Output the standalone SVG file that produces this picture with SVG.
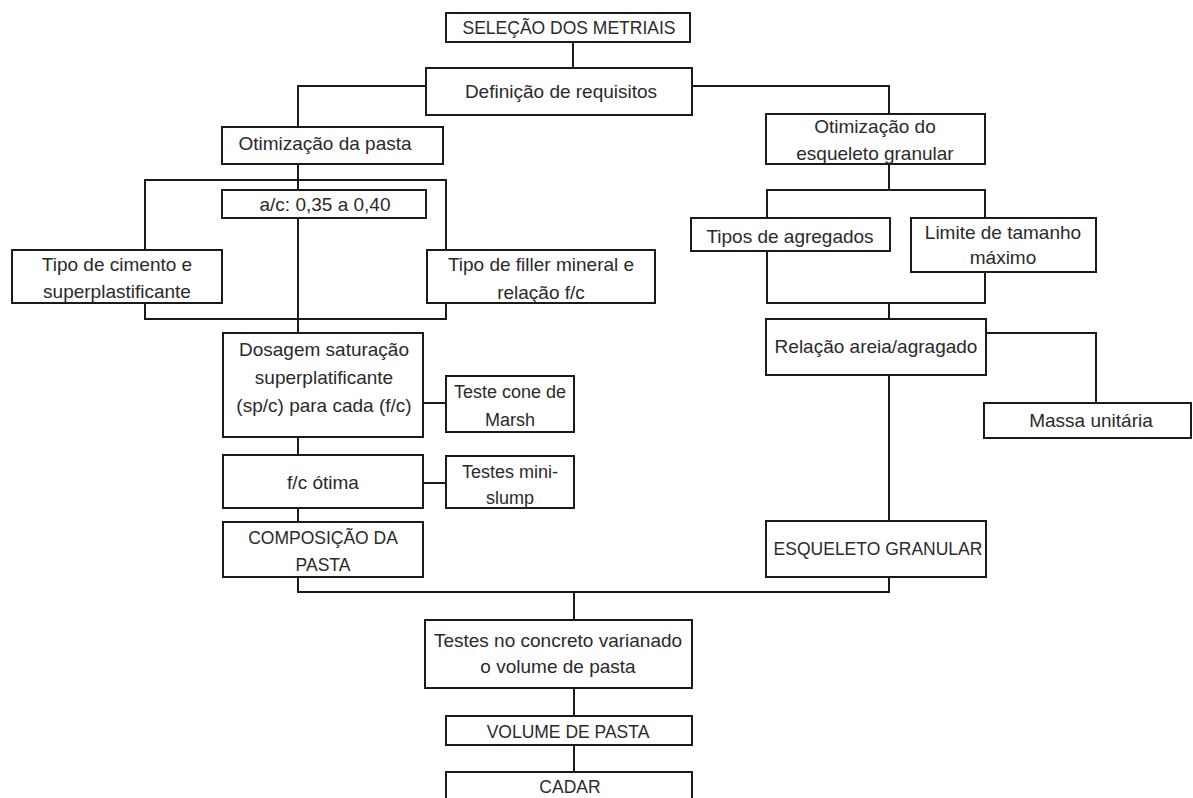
<svg xmlns="http://www.w3.org/2000/svg" width="1193" height="798" viewBox="0 0 1193 798">
<style>
.box{fill:#fff;stroke:#1a1a1a;stroke-width:2}
.ln{fill:none;stroke:#1a1a1a;stroke-width:2}
text{font-family:"Liberation Sans",Arial,sans-serif;font-size:19px;fill:#2a2a2a;text-anchor:middle}
text.cap{font-size:17.5px}
text.sm{font-size:18px}
</style>
<rect width="1193" height="798" fill="#fff"/>
<g id="connectors">
<path class="ln" d="M573 42V68"/>
<path class="ln" d="M426 86H298V127"/>
<path class="ln" d="M692 86H889V114"/>
<path class="ln" d="M298 164V190"/>
<path class="ln" d="M145 250V180H446V250"/>
<path class="ln" d="M298 218V333"/>
<path class="ln" d="M145 303V319H446V303"/>
<path class="ln" d="M423 403H446"/>
<path class="ln" d="M298 437V455"/>
<path class="ln" d="M423 483H446"/>
<path class="ln" d="M298 508V522"/>
<path class="ln" d="M298 577V592H889V577"/>
<path class="ln" d="M889 164V190"/>
<path class="ln" d="M767 218V190H985V218"/>
<path class="ln" d="M767 251V303H985V272"/>
<path class="ln" d="M889 303V319"/>
<path class="ln" d="M986 333H1096V403"/>
<path class="ln" d="M889 375V521"/>
<path class="ln" d="M574 592V620"/>
<path class="ln" d="M574 688V716"/>
<path class="ln" d="M574 745V772"/>
</g>
<g id="selecao"><rect class="box" x="446" y="13" width="244" height="29"/><text class="cap" x="569" y="34">SELEÇÃO DOS METRIAIS</text></g>
<g id="definicao"><rect class="box" x="426" y="68" width="266" height="47"/><text x="561" y="98">Definição de requisitos</text></g>
<g id="otim-pasta"><rect class="box" x="222" y="127" width="221" height="37"/><text x="325" y="150">Otimização da pasta</text></g>
<g id="ac"><rect class="box" x="222" y="190" width="204" height="28"/><text x="325" y="211">a/c: 0,35 a 0,40</text></g>
<g id="tipo-cimento"><rect class="box" x="12" y="250" width="210" height="53"/><text x="117" y="271">Tipo de cimento e</text><text x="117" y="298">superplastificante</text></g>
<g id="tipo-filler"><rect class="box" x="427" y="250" width="228" height="53"/><text x="541" y="271">Tipo de filler mineral e</text><text x="541" y="299">relação f/c</text></g>
<g id="dosagem"><rect class="box" x="223" y="333" width="200" height="104"/><text x="324" y="356">Dosagem saturação</text><text x="324" y="384">superplatificante</text><text x="324" y="412">(sp/c) para cada (f/c)</text></g>
<g id="marsh"><rect class="box" x="446" y="376" width="128" height="56"/><text class="sm" x="510" y="398">Teste cone de</text><text class="sm" x="510" y="426">Marsh</text></g>
<g id="fc-otima"><rect class="box" x="223" y="455" width="200" height="53"/><text x="323" y="489">f/c ótima</text></g>
<g id="minislump"><rect class="box" x="446" y="456" width="128" height="52"/><text class="sm" x="510" y="478">Testes mini-</text><text class="sm" x="510" y="504">slump</text></g>
<g id="composicao"><rect class="box" x="223" y="522" width="200" height="55"/><text class="cap" x="323" y="544">COMPOSIÇÃO DA</text><text class="cap" x="323" y="571">PASTA</text></g>
<g id="otim-esqueleto"><rect class="box" x="766" y="114" width="219" height="50"/><text x="875" y="133">Otimização do</text><text x="875" y="160">esqueleto granular</text></g>
<g id="tipos-agregados"><rect class="box" x="691" y="218" width="199" height="33"/><text x="790" y="243">Tipos de agregados</text></g>
<g id="limite"><rect class="box" x="911" y="218" width="185" height="54"/><text x="1003" y="239">Limite de tamanho</text><text x="1003" y="264">máximo</text></g>
<g id="relacao"><rect class="box" x="766" y="319" width="220" height="56"/><text x="876" y="353">Relação areia/agragado</text></g>
<g id="massa"><rect class="box" x="984" y="403" width="207" height="35"/><text x="1091" y="427">Massa unitária</text></g>
<g id="esqueleto"><rect class="box" x="766" y="521" width="220" height="56"/><text class="cap" x="878" y="555">ESQUELETO GRANULAR</text></g>
<g id="testes-concreto"><rect class="box" x="425" y="620" width="267" height="68"/><text x="558" y="647">Testes no concreto varianado</text><text x="558" y="673">o volume de pasta</text></g>
<g id="volume"><rect class="box" x="446" y="716" width="246" height="29"/><text class="cap" x="568" y="738">VOLUME DE PASTA</text></g>
<g id="cadar"><rect class="box" x="446" y="772" width="246" height="40"/><text class="cap" x="570" y="793">CADAR</text></g>
</svg>
